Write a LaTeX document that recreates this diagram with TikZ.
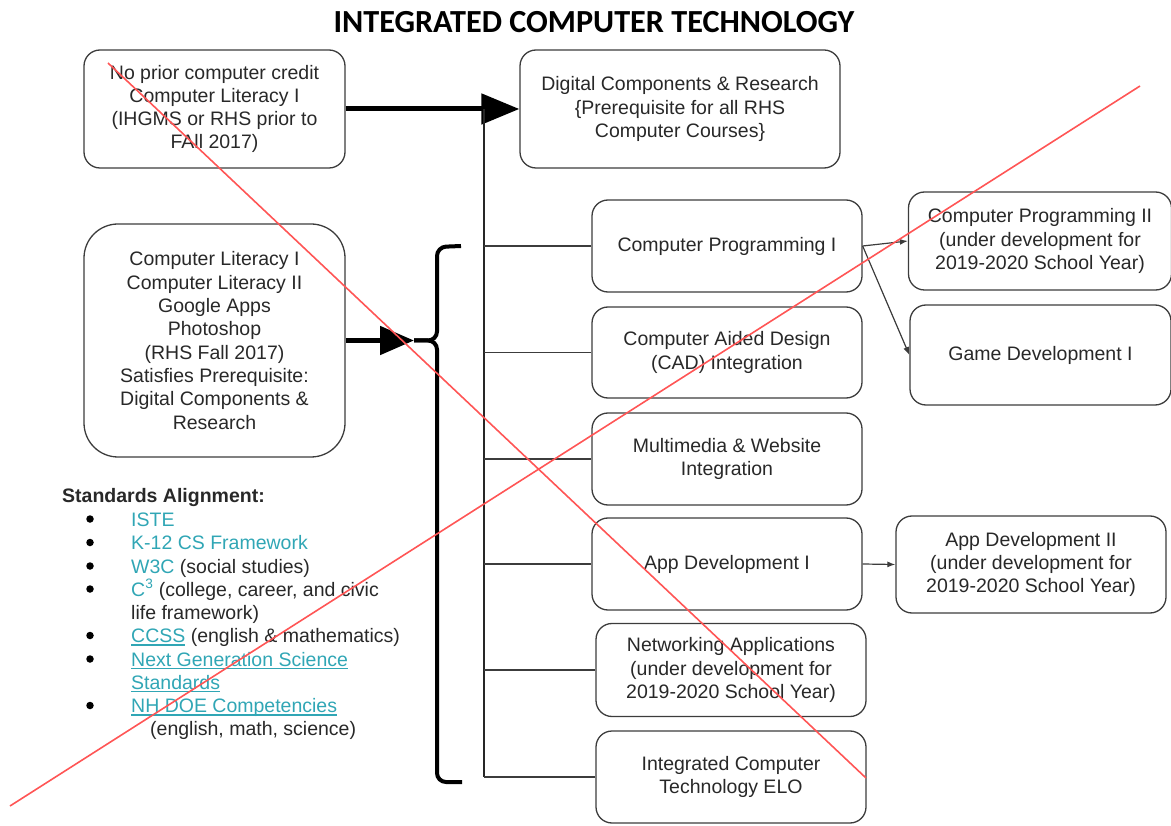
\documentclass[tikz,border=0pt]{standalone}
\usepackage{fontspec}
\setmainfont{Liberation Sans}
\newfontfamily\headfont{Carlito}
\usetikzlibrary{arrows.meta}
\definecolor{txt}{RGB}{40,40,40}
\definecolor{edge}{RGB}{60,60,60}
\definecolor{linkc}{RGB}{48,166,181}
\definecolor{crossred}{RGB}{255,85,85}
% underlined link text, rule placed a little under the baseline
\newcommand\linkul[1]{\setbox0\hbox{#1}\rlap{\rule[-3pt]{\wd0}{1.3pt}}\box0}
\begin{document}
\begin{tikzpicture}[x=1pt,y=-1pt,
  course/.style={draw=edge, line width=1.3pt, rounded corners=16pt, align=center,
    text=txt, font=\fontsize{19.5}{23.3}\selectfont, inner sep=0pt},
  branch/.style={draw=edge, line width=1.4pt},
  trunk/.style={draw=black!85, line width=2pt},
  heavy/.style={draw=black, line width=5pt, -{Triangle[length=38pt,width=30pt]}},
  smallarrow/.style={draw=edge, line width=1.2pt, -{Latex[length=8pt,width=6pt]}},
  listtext/.style={anchor=base west, inner sep=0pt, text=txt, font=\fontsize{19.5}{23.3}\selectfont},
  bulletmark/.style={circle, fill=black, inner sep=0pt, minimum size=7.5pt},
  crossout/.style={draw=crossred, line width=1.6pt}]
\useasboundingbox (0,0) rectangle (1171,826);

% title
\node[font=\headfont\bfseries\fontsize{32.2}{38}\selectfont, inner sep=0pt] (title) at (594,22) {INTEGRATED COMPUTER TECHNOLOGY};

% entry courses
\node[course, minimum width=261pt, minimum height=118pt] (prior) at (214.5,109)
  {No prior computer credit\\Computer Literacy I\\(IHGMS or RHS prior to\\FAll 2017)};
\node[course, minimum width=320pt, minimum height=118pt] (dcr) at (680,109)
  {Digital Components \& Research\\\{Prerequisite for all RHS\\Computer Courses\}};
\node[course, rounded corners=34pt, minimum width=261pt, minimum height=233pt] (lit) at (214.5,340.5)
  {Computer Literacy I\\Computer Literacy II\\Google Apps\\Photoshop\\(RHS Fall 2017)\\Satisfies Prerequisite:\\Digital Components \&\\Research};

% course column
\node[course, minimum width=270pt, minimum height=92pt] (cp1) at (727,246) {Computer Programming I};
\node[course, minimum width=270pt, minimum height=91pt] (cad) at (727,352.5) {Computer Aided Design\\(CAD) Integration};
\node[course, minimum width=270pt, minimum height=92pt] (mm) at (727,459) {Multimedia \& Website\\Integration};
\node[course, minimum width=270pt, minimum height=92pt] (app1) at (727,564) {App Development I};
\node[course, minimum width=270pt, minimum height=93pt] (net) at (731,670) {Networking Applications\\(under development for\\2019-2020 School Year)};
\node[course, minimum width=270pt, minimum height=92pt] (elo) at (731,777) {Integrated Computer\\Technology ELO};

% follow-on courses
\node[course, minimum width=263pt, minimum height=98pt] (cp2) at (1040,241) {Computer Programming II\\(under development for\\2019-2020 School Year)};
\node[course, minimum width=261pt, minimum height=100pt] (game) at (1040.5,355) {Game Development I};
\node[course, minimum width=270pt, minimum height=97pt] (app2) at (1031,564.5) {App Development II\\(under development for\\2019-2020 School Year)};

% main arrow and trunk
\draw[heavy] (prior.east) -- (dcr.west);
\coordinate (j) at (484,109);
\draw[trunk] (j) -- (j |- elo.west);
\foreach \n in {cp1,cad,mm,app1,net,elo}
  \draw[branch] (j |- \n.west) -- (\n.west);

% bracket gathering the Fall 2017 courses
\coordinate (notch) at (414,340.5);
\draw[line width=4pt, rounded corners=9pt] (461,246) -- (437,247) -- (437,340.5) -- (notch);
\draw[line width=4pt, rounded corners=9pt] (notch) -- (437,340.5) -- (437,782) -- (462,782);
\draw[heavy, -{Triangle[length=34pt,width=28pt]}] (lit.east) -- (notch);

% progressions
\draw[smallarrow] (cp1.east) -- (cp2.west);
\draw[smallarrow] (cp1.east) -- (game.west);
\draw[smallarrow] (app1.east) -- (app2.west);

% standards list
\node[listtext, font=\bfseries\fontsize{19.5}{23.3}\selectfont] (stdhead) at (62,502) {Standards Alignment:};
\foreach \y [count=\k] in {526,549.5,573,596,642.5,666,712.5}
  \node[bulletmark] (b\k) at (90,\y-7) {};
\node[listtext] (s1) at (131,526) {\textcolor{linkc}{ISTE}};
\node[listtext] (s2) at (131,549.5) {\textcolor{linkc}{K-12 CS Framework}};
\node[listtext] (s3) at (131,573) {\textcolor{linkc}{W3C} (social studies)};
\node[listtext] (s4) at (131,596) {\textcolor{linkc}{C\textsuperscript{3}} (college, career, and civic};
\node[listtext] (s4b) at (131,619) {life framework)};
\node[listtext] (s5) at (131,642.5) {\textcolor{linkc}{\linkul{CCSS}} (english \& mathematics)};
\node[listtext] (s6) at (131,666) {\textcolor{linkc}{\linkul{Next Generation Science}}};
\node[listtext] (s6b) at (131,689) {\textcolor{linkc}{\linkul{Standards}}};
\node[listtext] (s7) at (131,712.5) {\textcolor{linkc}{\linkul{NH DOE Competencies}}};
\node[listtext] (s7b) at (150,735.5) {(english, math, science)};

% crossing-out strokes
\draw[crossout] (108,63) -- (866,778);
\draw[crossout] (10,806) -- (1140,86);
\end{tikzpicture}
\end{document}
